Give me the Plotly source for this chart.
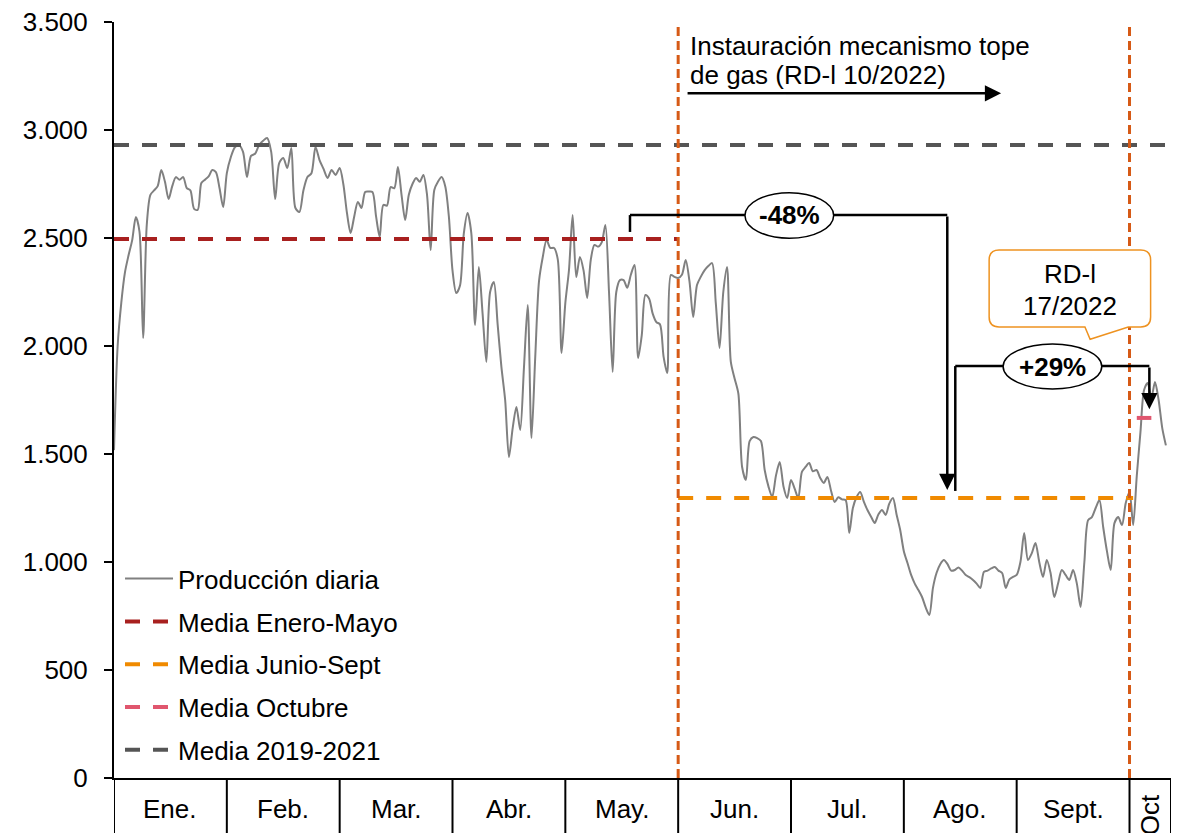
import plotly.graph_objects as go

# meses del eje (cada mes ocupa el mismo ancho)
meses = ['Ene.', 'Feb.', 'Mar.', 'Abr.', 'May.', 'Jun.', 'Jul.', 'Ago.', 'Sept.', 'Oct']
dias_mes = [31, 28, 31, 30, 31, 30, 31, 31, 30, 31]

# produccion diaria
prod_ene = [1518, 2000, 2200, 2340, 2420, 2490, 2597, 2530, 2037, 2560, 2700, 2720, 2740, 2815, 2760, 2680,
            2740, 2782, 2770, 2782, 2731, 2720, 2635, 2630, 2755, 2770, 2785, 2815, 2805, 2730, 2643]
prod_feb = [2800, 2875, 2920, 2930, 2900, 2782, 2880, 2890, 2930, 2950, 2963, 2900, 2680, 2847, 2870, 2824,
            2917, 2640, 2620, 2720, 2782, 2800, 2921, 2861, 2820, 2778, 2815, 2792]
prod_mar = [2824, 2750, 2616, 2523, 2600, 2667, 2639, 2713, 2715, 2713, 2600, 2505, 2653, 2650, 2736, 2730,
            2829, 2700, 2583, 2700, 2750, 2778, 2760, 2792, 2700, 2444, 2722, 2760, 2782, 2740, 2600]
prod_abr = [2350, 2245, 2280, 2520, 2616, 2523, 2097, 2366, 2150, 1926, 2250, 2296, 2100, 1903, 1750, 1486,
            1620, 1718, 1611, 1900, 2190, 1574, 1950, 2300, 2412, 2491, 2454, 2454, 2400, 1968]
prod_may = [2200, 2352, 2606, 2319, 2412, 2350, 2222, 2400, 2468, 2460, 2480, 2560, 2250, 1880, 2250, 2305,
            2305, 2270, 2330, 2375, 1944, 2050, 2236, 2220, 2150, 2111, 2100, 1950, 1875, 2329, 2320]
prod_jun = [2315, 2330, 2398, 2300, 2134, 2282, 2320, 2350, 2370, 2384, 2200, 1991, 2250, 2366, 1926, 1850,
            1780, 1440, 1380, 1560, 1579, 1574, 1560, 1426, 1350, 1301, 1400, 1463, 1350, 1296]
prod_jul = [1380, 1340, 1296, 1417, 1440, 1458, 1420, 1426, 1390, 1366, 1394, 1330, 1278, 1300, 1290, 1287,
            1134, 1250, 1300, 1324, 1280, 1241, 1210, 1181, 1220, 1241, 1218, 1270, 1296, 1220, 1148]
prod_ago = [1050, 995, 940, 900, 870, 838, 790, 755, 880, 950, 990, 1009, 990, 960, 963, 975,
            960, 940, 930, 917, 900, 880, 954, 960, 970, 977, 960, 949, 880, 920, 931]
prod_sep = [940, 1000, 1134, 1009, 1040, 1088, 1000, 931, 1009, 950, 838, 900, 963, 940, 917, 963,
            900, 792, 1000, 1194, 1208, 1250, 1287, 1162, 1050, 963, 1180, 1208, 1171, 1273]
prod_oct = [1324, 1171, 1400, 1600, 1796, 1829, 1760, 1833, 1750, 1620, 1540]

# medias de referencia
media_ene_may = 2495
media_jun_sep = 1296
media_oct = 1667
media_2019_2021 = 2930

FONT = 'Arial, Liberation Sans, sans-serif'

produccion = [prod_ene, prod_feb, prod_mar, prod_abr, prod_may, prod_jun, prod_jul, prod_ago, prod_sep, prod_oct]
x_prod, y_prod = [], []
for m, valores in enumerate(produccion):
    for d, v in enumerate(valores):
        x_prod.append(m + d / dias_mes[m])
        y_prod.append(v)

x_fin = 9 + 11.4 / 31   # borde derecho del eje (mitad de octubre)


def pos(mes, dia):
    # posicion en el eje x de un dia concreto (mes 0-index, dia 1-index)
    return mes + (dia - 1) / dias_mes[mes]


fig = go.Figure()
fig.add_trace(go.Scatter(x=x_prod, y=y_prod, mode='lines', name='Producción diaria',
                         line=dict(color='#808080', width=2, shape='spline', smoothing=0.8),
                         legendgroup='a'))
medias = [
    ('Media Enero-Mayo', media_ene_may, 0, 5, '#A8201F', 'b'),
    ('Media Junio-Sept', media_jun_sep, 5, pos(9, 2), '#F08A00', 'c'),
    ('Media Octubre', media_oct, pos(9, 3), pos(9, 7), '#E0566E', 'd'),
    ('Media 2019-2021', media_2019_2021, 0, pos(9, 11), '#555555', 'e'),
]
for nombre, valor, x0, x1, color, grupo in medias:
    fig.add_trace(go.Scatter(x=[x0, x1], y=[valor, valor], mode='lines', name=nombre,
                             line=dict(color=color, width=4, dash='15px,13px'),
                             legendgroup=grupo))

shapes = []
# lineas verticales (inicio tope de gas y RD-l 17/2022)
for xv in [5, 9]:
    shapes.append(dict(type='line', xref='x', yref='y', x0=xv, x1=xv, y0=0, y1=3500,
                       line=dict(color='#D65A16', width=3, dash='9px,5px')))

# cajas de meses bajo el eje
for xv in list(range(10)) + [x_fin]:
    shapes.append(dict(type='line', xref='x', yref='paper', x0=xv, x1=xv, y0=0, y1=-0.075,
                       line=dict(color='black', width=2)))

# corchete -48%
negro = dict(color='black', width=2.5)
shapes.append(dict(type='line', xref='x', yref='y', x0=4.573, x1=4.573, y0=2528, y1=2606, line=negro))
shapes.append(dict(type='line', xref='x', yref='y', x0=4.573, x1=7.385, y0=2606, y1=2606, line=negro))
# corchete +29%
shapes.append(dict(type='line', xref='x', yref='y', x0=7.456, x1=7.456, y0=1329, y1=1907, line=negro))
shapes.append(dict(type='line', xref='x', yref='y', x0=7.456, x1=9.176, y0=1907, y1=1907, line=negro))

# elipses de los porcentajes
shapes.append(dict(type='circle', xref='x', yref='y', x0=5.592, x1=6.378, y0=2499, y1=2710,
                   fillcolor='white', line=dict(color='black', width=1.5)))
shapes.append(dict(type='circle', xref='x', yref='y', x0=7.880, x1=8.754, y0=1801, y1=2009,
                   fillcolor='white', line=dict(color='black', width=1.5)))

# bocadillo RD-l 17/2022
bx0, bx1, by0, by1 = 7.756, 9.187, 2088, 2444
rx, ry = 0.088, 46
path = (f'M {bx0 + rx},{by1} L {bx1 - rx},{by1} Q {bx1},{by1} {bx1},{by1 - ry} '
        f'L {bx1},{by0 + ry} Q {bx1},{by0} {bx1 - rx},{by0} '
        f'L 8.989,{by0} L 8.651,2031 L 8.605,{by0} '
        f'L {bx0 + rx},{by0} Q {bx0},{by0} {bx0},{by0 + ry} '
        f'L {bx0},{by1 - ry} Q {bx0},{by1} {bx0 + rx},{by1} Z')
shapes.append(dict(type='path', xref='x', yref='y', path=path, fillcolor='white',
                   line=dict(color='#EE9220', width=1.5)))

annotations = []
flecha = dict(xref='x', yref='y', axref='x', ayref='y', text='', showarrow=True,
              arrowhead=2, arrowsize=1.3, arrowwidth=2.5, arrowcolor='black', standoff=0)
annotations.append(dict(flecha, x=7.385, y=1333, ax=7.385, ay=2606))
annotations.append(dict(flecha, x=9.176, y=1707, ax=9.176, ay=1907))
annotations.append(dict(flecha, x=7.862, y=3170, ax=5.07, ay=3170))

texto = dict(xref='x', yref='y', showarrow=False, font=dict(family=FONT, size=26, color='black'))
annotations.append(dict(texto, x=5.088, y=3389, xanchor='left', yanchor='middle',
                        text='Instauración mecanismo tope'))
annotations.append(dict(texto, x=5.088, y=3255, xanchor='left', yanchor='middle',
                        text='de gas (RD-l 10/2022)'))
annotations.append(dict(texto, x=5.985, y=2606, text='<b>-48%</b>'))
annotations.append(dict(texto, x=8.317, y=1905, text='<b>+29%</b>'))
annotations.append(dict(texto, x=8.472, y=2333, text='RD-l'))
annotations.append(dict(texto, x=8.472, y=2185, text='17/2022'))

# etiquetas de meses
for i, mes in enumerate(meses):
    if mes == 'Oct':
        annotations.append(dict(x=(9 + x_fin) / 2, y=-0.049, xref='x', yref='paper', text=mes,
                                showarrow=False, textangle=-90, xanchor='center', yanchor='middle',
                                font=dict(family=FONT, size=26, color='black')))
    else:
        annotations.append(dict(x=i + 0.5, y=-0.041, xref='x', yref='paper', text=mes,
                                showarrow=False, xanchor='center', yanchor='middle',
                                font=dict(family=FONT, size=26, color='black')))

# la pagina tiene un margen de 8 px, se descuenta del tamano de la figura
fig.update_layout(
    width=1173, height=825,
    margin=dict(l=106, r=10, t=14, b=55, autoexpand=False),
    plot_bgcolor='white', paper_bgcolor='white',
    separators=',.',
    font=dict(family=FONT, size=26, color='black'),
    showlegend=True,
    legend=dict(x=0.0057, y=0.005, xanchor='left', yanchor='bottom', bgcolor='rgba(0,0,0,0)',
                font=dict(family=FONT, size=26, color='black'), tracegroupgap=6,
                itemwidth=48),
    shapes=shapes,
    annotations=annotations,
    xaxis=dict(range=[0, x_fin], showgrid=False, zeroline=False, showticklabels=False,
               ticks='', showline=True, linecolor='black', linewidth=2, automargin=False),
    yaxis=dict(range=[0, 3500], dtick=500, tickformat=',d', showgrid=False, zeroline=False,
               showline=True, linecolor='black', linewidth=2, ticks='outside', ticklen=8,
               tickwidth=2, tickcolor='black', ticklabelstandoff=11, ticklabeloverflow='allow',
               automargin=False, tickfont=dict(family=FONT, size=26, color='black')),
)

fig.write_html('out.html')
